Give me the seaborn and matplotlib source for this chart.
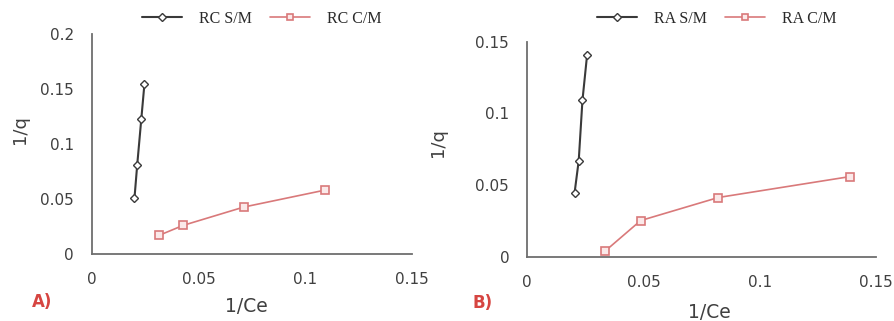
import numpy as np
import pandas as pd
import matplotlib
matplotlib.use("Agg")
import matplotlib.pyplot as plt
import seaborn as sns

# values
rc_sm_x = [0.0199, 0.0212, 0.0231, 0.0246]
rc_sm_y = [0.0506, 0.0812, 0.1225, 0.1550]
rc_cm_x = [0.0315, 0.0427, 0.0712, 0.1090]
rc_cm_y = [0.0170, 0.0260, 0.0427, 0.0580]

ra_sm_x = [0.0203, 0.0221, 0.0237, 0.0257]
ra_sm_y = [0.0443, 0.0670, 0.1090, 0.1408]
ra_cm_x = [0.0335, 0.0487, 0.0821, 0.1387]
ra_cm_y = [0.0040, 0.0252, 0.0413, 0.0559]

x_ticks = [0, 0.05, 0.1, 0.15]
x_tick_labels = ["0", "0.05", "0.1", "0.15"]
y_ticks_a = [0, 0.05, 0.1, 0.15, 0.2]
y_tick_labels_a = ["0", "0.05", "0.1", "0.15", "0.2"]
y_ticks_b = [0, 0.05, 0.1, 0.15]
y_tick_labels_b = ["0", "0.05", "0.1", "0.15"]

sns.set_style("white")
plt.rcParams['font.family'] = ['DejaVu Sans']

BLACK = "#3a3a3a"
RED = "#d9797a"
AXIS = "#6e6e6e"
TXT = "#404040"

fig = plt.figure(figsize=(8.94, 3.21), dpi=100)
ax_a = fig.add_axes([92 / 894, 1 - 254 / 321, 320 / 894, 220 / 321])
ax_b = fig.add_axes([527.3 / 894, 1 - 256.7 / 321, 349 / 894, 215 / 321])


def draw_panel(ax, sm_x, sm_y, cm_x, cm_y, names, xlim, ylim, yticks, ylabels):
    df_sm = pd.DataFrame({"x": sm_x, "y": sm_y})
    df_cm = pd.DataFrame({"x": cm_x, "y": cm_y})
    sns.lineplot(data=df_sm, x="x", y="y", ax=ax, sort=False, color=BLACK,
                 linewidth=1.5, marker="D", markersize=4.5, markerfacecolor="white",
                 markeredgecolor=BLACK, markeredgewidth=1.0, label=names[0])
    sns.lineplot(data=df_cm, x="x", y="y", ax=ax, sort=False, color=RED,
                 linewidth=1.2, marker="s", markersize=5.5, markerfacecolor="#fbe9e9",
                 markeredgecolor=RED, markeredgewidth=1.2, label=names[1])
    ax.set_xlim(*xlim)
    ax.set_ylim(*ylim)
    ax.set_xticks(x_ticks)
    ax.set_xticklabels(x_tick_labels)
    ax.set_yticks(yticks)
    ax.set_yticklabels(ylabels)
    ax.tick_params(axis="x", length=0, pad=13, labelsize=11, labelcolor=TXT)
    ax.tick_params(axis="y", length=0, pad=13, labelsize=11, labelcolor=TXT)
    for s in ["top", "right"]:
        ax.spines[s].set_visible(False)
    for s in ["left", "bottom"]:
        ax.spines[s].set_color(AXIS)
        ax.spines[s].set_linewidth(1.3)
    ax.set_xlabel("")
    ax.set_ylabel("")
    ax.grid(False)
    ax.legend_.remove()


draw_panel(ax_a, rc_sm_x, rc_sm_y, rc_cm_x, rc_cm_y, ["RC S/M", "RC C/M"],
           (0, 0.15), (0, 0.2), y_ticks_a, y_tick_labels_a)
draw_panel(ax_b, ra_sm_x, ra_sm_y, ra_cm_x, ra_cm_y, ["RA S/M", "RA C/M"],
           (0, 0.15), (0, 0.15), y_ticks_b, y_tick_labels_b)

# axis titles
fig.text(20 / 894, 1 - 130 / 321, "1/q", rotation=90, ha="center", va="center",
         fontsize=13, color=TXT)
fig.text(438 / 894, 1 - 143 / 321, "1/q", rotation=90, ha="center", va="center",
         fontsize=13, color=TXT)
fig.text(246 / 894, 1 - 307 / 321, "1/Ce", ha="center", va="center",
         fontsize=13.5, color=TXT)
fig.text(709 / 894, 1 - 313 / 321, "1/Ce", ha="center", va="center",
         fontsize=13.5, color=TXT)

# panel tags
fig.text(42 / 894, 1 - 302 / 321, "A)", ha="center", va="center",
         fontsize=12, fontweight="bold", color="#d64541")
fig.text(483 / 894, 1 - 303 / 321, "B)", ha="center", va="center",
         fontsize=12, fontweight="bold", color="#d64541")

# legends
for ax, cx in [(ax_a, 262), (ax_b, 717)]:
    h, l = ax.get_legend_handles_labels()
    fig.legend(h, l, loc="center", bbox_to_anchor=(cx / 894, 1 - 19 / 321),
               ncol=2, frameon=False, handlelength=2.5, columnspacing=1.1,
               handletextpad=1.1, prop={"family": "Liberation Serif", "size": 11.5},
               labelcolor="#2a2a2a", markerscale=0.8)

fig.savefig("out.png", dpi=100)
